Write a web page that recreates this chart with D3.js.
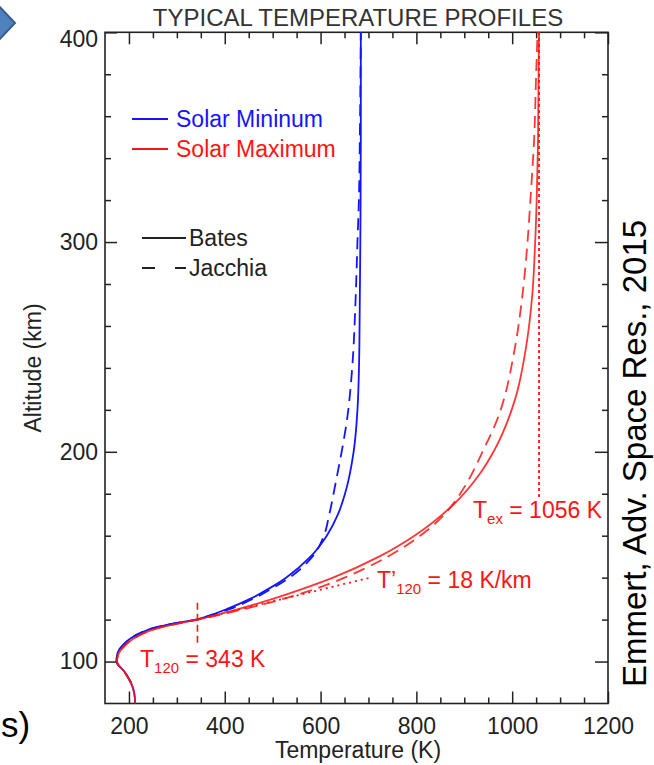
<!DOCTYPE html>
<html>
<head>
<meta charset="utf-8">
<script src="https://cdn.jsdelivr.net/npm/d3@7/dist/d3.min.js"></script>
<style>
  body { margin: 0; background: #fff; }
  text { font-family: "Liberation Sans", Arial, sans-serif; }
</style>
</head>
<body>
<div id="chart"></div>
<script>
// profiles as [altitude (km), temperature (K)]
var batesMin = [[80,213],[85,211],[90,204],[95,191],[100,174],[104,176],[108,188],[111,203],[114,228],[116,252],[118,290],[120,340],
  [122.5,375],[125,404],[130,454],[135,494],[140,528],[150,579],[160,613],[170,636],[180,651],[200,669],[220,677],[250,681],[300,683],[350,684],[400,684]]
var jacchiaMin = [[90,204],[95,191],[100,174],[104,176],[108,188],[111,203],[114,228],[116,252],[118,290],[120,340],
  [122.5,378],[125,410],[130,460],[135,500],[140,535],[150,583],[160,607],[170,618],[187,633],[200,644],[215,655],[240,666],[272,673],[300,677],[320,680],[350,682],[400,684]]
var batesMax = [[80,213],[85,211],[90,204],[95,191],[100,175],[104,179],[108,193],[111,210],[114,236],[116,262],[118,300],[120,343],
  [122.5,387],[125,428],[130,502],[135,567],[140,626],[150,722],[160,796],[175,878],[190,934],[200,961],[225,1006],[250,1029],[275,1042],[300,1048],[350,1054],[400,1056]]
var jacchiaMax = [[90,204],[95,191],[100,175],[104,179],[108,193],[111,210],[114,236],[116,262],[118,300],[120,343],
  [122.5,394],[125,440],[130,524],[135,594],[140,650],[150,740],[160,808],[170,858],[175,876],[185,905],[200,938],[215,968],[250,1006],[272,1020],[300,1032],[320,1038],[350,1046],[380,1050],[400,1053]]

// annotation guides
var t120Marker = [[109,343],[129,343]]
var texMarker = [[178.5,1056],[400,1056]]
var gradientLine = [[120,343],[139.8,700]]

var xMajorTicks = [200, 400, 600, 800, 1000, 1200]
var yMajorTicks = [100, 200, 300, 400]
var seriesNames = ["Solar Mininum", "Solar Maximum"]
var modelNames = ["Bates", "Jacchia"]

var blue = "#1414ff", red = "#ff1414", ink = "#222"

var margin = {top: 32.3, left: 105}
var width = 503, height = 671.2

var svg = d3.select("#chart").append("svg")
  .attr("width", 654).attr("height", 765)
  .style("background", "#fff")

var g = svg.append("g").attr("transform", "translate(" + margin.left + "," + margin.top + ")")

var x = d3.scaleLinear().domain([150, 1200]).range([0, width])
var y = d3.scaleLinear().domain([80, 400]).range([height, 0])

var xMinor = d3.range(200, 1200, 50).filter(v => !xMajorTicks.includes(v))
var yMinor = d3.range(100, 400, 20).filter(v => !yMajorTicks.includes(v))

/* ticks on all four sides, pointing inward */
function ticks(axis, values, size, transform) {
  g.append("g")
    .attr("transform", transform || null)
    .call(axis.tickValues(values).tickSize(size).tickSizeOuter(0).tickFormat(""))
    .call(s => s.select(".domain").remove())
    .selectAll("line").attr("stroke", ink).attr("stroke-width", 1.5)
}
ticks(d3.axisBottom(x), xMajorTicks, -12, "translate(0," + height + ")")
ticks(d3.axisBottom(x), xMinor, -6, "translate(0," + height + ")")
ticks(d3.axisTop(x), xMajorTicks, -12)
ticks(d3.axisTop(x), xMinor, -6)
ticks(d3.axisLeft(y), yMajorTicks, -12)
ticks(d3.axisLeft(y), yMinor, -6)
ticks(d3.axisRight(y), yMajorTicks, -13, "translate(" + width + ",0)")
ticks(d3.axisRight(y), yMinor, -6, "translate(" + width + ",0)")

/* tick labels */
g.append("g")
  .attr("transform", "translate(0," + height + ")")
  .call(d3.axisBottom(x).tickValues(xMajorTicks).tickSize(0).tickPadding(14).tickFormat(d3.format("d")))
  .call(s => s.select(".domain").remove())
  .selectAll("text").attr("font-size", 23).attr("fill", ink)
  .style("font-family", "'Liberation Sans', Arial, sans-serif")

g.append("g")
  .call(d3.axisLeft(y).tickValues(yMajorTicks).tickSize(0).tickPadding(7).tickFormat(d3.format("d")))
  .call(s => s.select(".domain").remove())
  .selectAll("text").attr("font-size", 23).attr("fill", ink)
  .style("font-family", "'Liberation Sans', Arial, sans-serif")
  .attr("y", d => d === 400 ? 7 : 0)

/* frame */
g.append("rect")
  .attr("width", width).attr("height", height)
  .attr("fill", "none").attr("stroke", ink).attr("stroke-width", 1.6)

/* profiles */
var line = d3.line()
  .x(d => x(d[1]))
  .y(d => y(d[0]))
  .curve(d3.curveMonotoneY)

var profiles = [
  {data: batesMin, color: blue, dash: null, opacity: 1},
  {data: jacchiaMin, color: blue, dash: "12,7", opacity: 1},
  {data: batesMax, color: red, dash: null, opacity: 0.85},
  {data: jacchiaMax, color: red, dash: "12,7", opacity: 0.85}
]
g.selectAll(".profile")
  .data(profiles).enter()
  .append("path")
  .attr("class", "profile")
  .attr("d", d => line(d.data))
  .attr("fill", "none")
  .attr("stroke", d => d.color)
  .attr("stroke-width", 1.8)
  .attr("stroke-dasharray", d => d.dash)
  .attr("opacity", d => d.opacity)

/* guides */
var straight = d3.line().x(d => x(d[1])).y(d => y(d[0]))
g.append("path").attr("d", straight(t120Marker))
  .attr("stroke", red).attr("stroke-width", 1.6).attr("stroke-dasharray", "7,4").attr("fill", "none")
g.append("path").attr("d", straight(texMarker))
  .attr("stroke", red).attr("stroke-width", 1.8).attr("stroke-dasharray", "3,3").attr("fill", "none")
g.append("path").attr("d", straight(gradientLine))
  .attr("stroke", red).attr("stroke-width", 1.8).attr("stroke-dasharray", "2,4").attr("fill", "none")

/* annotations with subscripts */
function subLabel(px, py, main, sub, rest) {
  var t = svg.append("text").attr("x", px).attr("y", py)
    .attr("fill", red).attr("font-size", 23)
  t.append("tspan").text(main)
  t.append("tspan").attr("font-size", 15).attr("dy", 6).text(sub)
  t.append("tspan").attr("dy", -6).text(rest)
}
subLabel(140, 667, "T", "120", " = 343 K")
subLabel(377, 588, "T\u2019", "120", " = 18 K/km")
subLabel(473, 518, "T", "ex", " = 1056 K")

/* legend */
var legend = svg.append("g")
seriesNames.forEach(function(name, i) {
  var ly = 119 + i * 30
  legend.append("line").attr("x1", 132).attr("x2", 168).attr("y1", ly).attr("y2", ly)
    .attr("stroke", i ? red : blue).attr("stroke-width", 1.8)
  legend.append("text").attr("x", 176).attr("y", ly + 8)
    .attr("font-size", 23).attr("fill", i ? red : blue).text(name)
})
modelNames.forEach(function(name, i) {
  var ly = 238 + i * 30
  legend.append("line").attr("x1", 142).attr("x2", 186).attr("y1", ly).attr("y2", ly)
    .attr("stroke", ink).attr("stroke-width", 1.8)
    .attr("stroke-dasharray", i ? "13,20" : null)
  legend.append("text").attr("x", 189).attr("y", ly + 8)
    .attr("font-size", 23).attr("fill", ink).text(name)
})

/* titles */
svg.append("text").attr("x", 358).attr("y", 26).attr("text-anchor", "middle")
  .attr("font-size", 24).attr("fill", "#333").text("TYPICAL TEMPERATURE PROFILES")
svg.append("text").attr("x", 358).attr("y", 758).attr("text-anchor", "middle")
  .attr("font-size", 23).attr("fill", ink).text("Temperature (K)")
svg.append("text").attr("transform", "translate(41,368) rotate(-90)").attr("text-anchor", "middle")
  .attr("font-size", 23).attr("fill", ink).text("Altitude (km)")

/* slide leftovers around the chart */
svg.append("text").attr("transform", "translate(646,687) rotate(-90)")
  .attr("font-size", 33).attr("fill", "#000").text("Emmert, Adv. Space Res., 2015")
svg.append("text").attr("x", 1).attr("y", 737)
  .attr("font-size", 35).attr("fill", "#000").text("s)")
svg.append("polygon").attr("points", "-2,5 15,23 -2,41")
  .attr("fill", "#4f81bd").attr("stroke", "#385d8a").attr("stroke-width", 2)
</script>
</body>
</html>
